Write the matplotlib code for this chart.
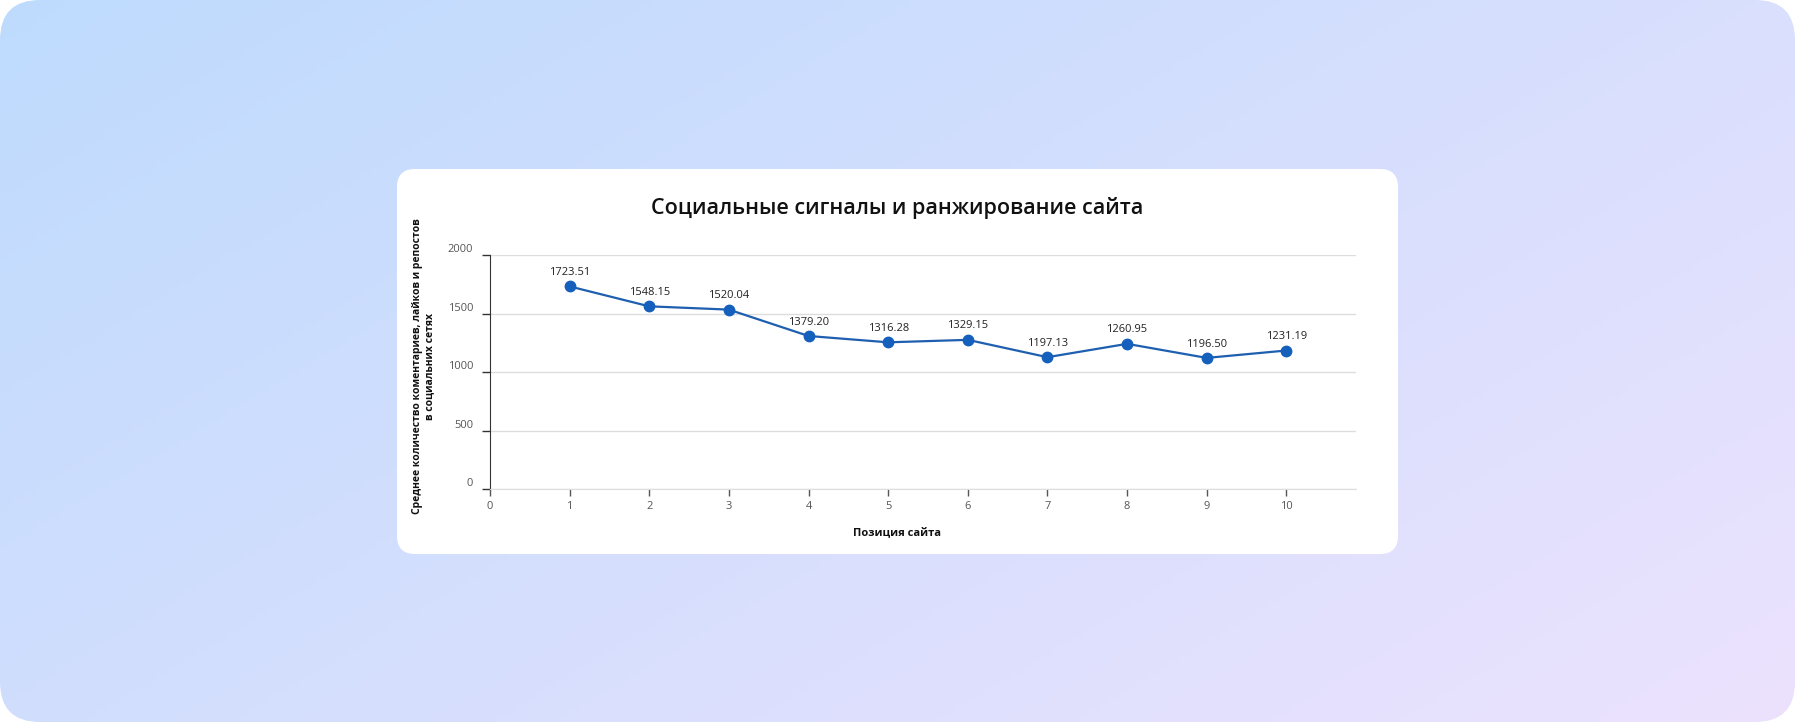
import matplotlib
matplotlib.use('Agg')
import matplotlib.pyplot as plt
import matplotlib.transforms as mtransforms
from matplotlib.patches import FancyBboxPatch
import numpy as np

plt.rcParams['font.family'] = ['Open Sans', 'DejaVu Sans']

# Данные
positions = [1, 2, 3, 4, 5, 6, 7, 8, 9, 10]
avg_signals = [1732, 1562, 1534, 1309, 1255, 1276, 1128, 1242, 1122, 1185]
value_labels = ['1723.51', '1548.15', '1520.04', '1379.20', '1316.28',
                '1329.15', '1197.13', '1260.95', '1196.50', '1231.19']
x_ticks = [0, 1, 2, 3, 4, 5, 6, 7, 8, 9, 10]
y_ticks = [0, 500, 1000, 1500, 2000]

W, H = 1795, 722
fig = plt.figure(figsize=(W / 100, H / 100), dpi=100)

# фон с градиентом
bg = fig.add_axes([0, 0, 1, 1], zorder=-10)
bg.set_xlim(0, W)
bg.set_ylim(H, 0)
bg.axis('off')
gx, gy = np.meshgrid(np.linspace(0, 1, 300), np.linspace(0, 1, 120))
t = np.clip(0.6 * gx + 0.4 * gy, 0, 1)[..., None]
c1 = np.array([190, 219, 254]) / 255
c2 = np.array([236, 226, 253]) / 255
grad = c1 * (1 - t) + c2 * t
bg.imshow(grad, extent=[0, W, H, 0], aspect='auto', zorder=0)
# скругленные углы картинки
clip = FancyBboxPatch((0, 0), W, H, boxstyle='round,pad=0,rounding_size=40',
                      transform=bg.transData, fc='none', ec='none')
bg.images[0].set_clip_path(clip)
# карточка
card = FancyBboxPatch((397, 169), 1001, 385, boxstyle='round,pad=0,rounding_size=18',
                      fc='white', ec='none', zorder=2)
bg.add_patch(card)

# график
ax = fig.add_axes([490 / W, (H - 489.4) / H, 865.6 / W, 234.4 / H])
ax.set_facecolor('none')
ax.plot(positions, avg_signals, color='#1f5fb0', lw=1.6, marker='o',
        markersize=7.5, markerfacecolor='#1560bd', markeredgecolor='#1560bd', zorder=3)
for xp, yp, lab in zip(positions, avg_signals, value_labels):
    ax.annotate(lab, (xp, yp), textcoords='offset points', xytext=(0, 10),
                ha='center', va='center', fontsize=8, color='#222222')

ax.set_xlim(0, 10.87)
ax.set_ylim(0, 2000)
ax.set_xticks(x_ticks)
ax.set_yticks(y_ticks)
ax.grid(axis='y', color='#dddddd', lw=1)
ax.set_axisbelow(True)
for s in ['top', 'right']:
    ax.spines[s].set_visible(False)
ax.spines['left'].set_color('#333333')
ax.spines['bottom'].set_color('#dddddd')
ax.tick_params(axis='y', length=6, width=1, color='#333333', labelsize=8,
               labelcolor='#555555', pad=6)
ax.tick_params(axis='x', length=5, width=1, color='#555555', labelsize=8,
               labelcolor='#555555', pad=3)
off = mtransforms.ScaledTranslation(0, 5 / 72, fig.dpi_scale_trans)
for lab in ax.get_yticklabels():
    lab.set_transform(lab.get_transform() + off)

ax.set_xlabel('Позиция сайта', fontsize=8, fontweight='bold', color='#111111')
ax.xaxis.set_label_coords(0.47, -0.165)
ax.set_ylabel('Среднее количество коментариев, лайков и репостов\nв социальних сетях',
              fontsize=7.5, fontweight='bold', color='#111111', linespacing=1.1)
ax.yaxis.set_label_coords(-0.0635, 0.526)

fig.text(897 / W, 1 - 208 / H, 'Социальные сигналы и ранжирование сайта',
         ha='center', va='center', fontsize=15.5, fontweight='semibold', color='#111111')

fig.savefig('out.png', dpi=100)
